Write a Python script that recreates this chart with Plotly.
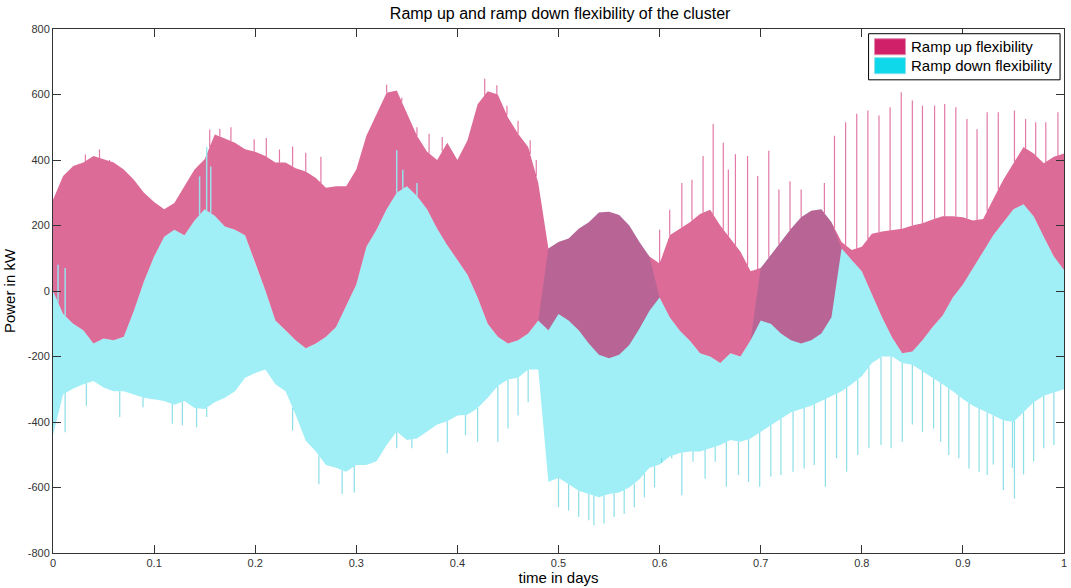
import plotly.graph_objects as go
import numpy as np

# time axis (days), envelopes sampled every 0.01 day
t = [round(i * 0.01, 2) for i in range(101)]

# Ramp up flexibility band: upper and lower envelopes (kW)
up_hi = [279, 351, 382, 392, 412, 402, 392, 371, 340, 300,
         272, 250, 269, 320, 371, 402, 478, 466, 453, 433,
         425, 412, 392, 392, 375, 365, 345, 315, 320, 320,
         371, 474, 540, 605, 612, 545, 474, 425, 400, 453,
         400, 460, 570, 610, 600, 530, 480, 440, 330, 130,
         150, 160, 190, 210, 240, 242, 232, 200, 150, 105,
         84, 170, 190, 210, 235, 248, 200, 160, 120, 60,
         70, 110, 150, 190, 225, 245, 250, 210, 150, 125,
         135, 175, 182, 185, 190, 200, 207, 218, 228, 228,
         225, 215, 220, 280, 340, 390, 440, 420, 390, 410, 420]
up_lo = [0, -70, -100, -120, -160, -145, -150, -140, -60, 30,
         105, 166, 187, 170, 215, 250, 230, 197, 187, 170,
         84, 2, -90, -120, -150, -175, -160, -140, -110, -45,
         20, 135, 187, 250, 300, 320, 290, 250, 190, 140,
         95, 50, -20, -100, -140, -160, -150, -130, -90, -120,
         -70, -90, -120, -160, -195, -205, -195, -165, -115, -60,
         -20, -80, -121, -152, -190, -200, -220, -190, -200, -150,
         -90, -100, -130, -150, -160, -150, -130, -80, 130, 95,
         60, -10, -80, -142, -190, -185, -150, -110, -75, -20,
         20, 70, 120, 170, 210, 250, 265, 228, 166, 105, 64]

# Ramp down flexibility band: upper and lower envelopes (kW)
dn_hi = [0, -70, -100, -120, -160, -145, -150, -140, -60, 30,
         105, 166, 187, 170, 215, 250, 230, 197, 187, 170,
         84, 2, -90, -120, -150, -175, -160, -140, -110, -45,
         20, 135, 187, 250, 300, 320, 290, 250, 190, 140,
         95, 50, -20, -100, -140, -160, -150, -130, -90, 130,
         150, 160, 190, 210, 240, 242, 232, 200, 150, 105,
         -20, -80, -121, -152, -190, -200, -220, -190, -200, -150,
         70, 110, 150, 190, 225, 245, 250, 210, 130, 95,
         60, -10, -80, -142, -190, -185, -150, -110, -75, -20,
         20, 70, 120, 170, 210, 250, 265, 228, 166, 105, 64]
dn_lo = [-440, -316, -298, -285, -275, -295, -306, -306, -316, -326,
         -330, -336, -347, -336, -357, -360, -340, -326, -306, -265,
         -250, -240, -285, -306, -378, -457, -490, -531, -540, -552,
         -531, -531, -520, -470, -429, -455, -450, -429, -408, -398,
         -380, -378, -357, -326, -290, -270, -265, -240, -240, -583,
         -570, -590, -610, -620, -630, -620, -615, -600, -575, -540,
         -530, -505, -495, -490, -490, -480, -470, -455, -460, -450,
         -430, -410, -390, -370, -360, -350, -335, -320, -306, -285,
         -260, -220, -200, -200, -220, -225, -244, -265, -285, -306,
         -330, -350, -365, -380, -395, -400, -370, -340, -320, -310, -300]

# isolated high spikes of the ramp up signal
up_spike_t = [0.032, 0.046, 0.056, 0.155, 0.165, 0.176, 0.199, 0.211, 0.224,
              0.237, 0.25, 0.265, 0.33, 0.345, 0.36, 0.372, 0.385,
              0.427, 0.439, 0.449, 0.46, 0.472, 0.478,
              0.6, 0.61, 0.622, 0.632, 0.643, 0.653, 0.663, 0.668,
              0.675, 0.687, 0.697, 0.708, 0.718, 0.729, 0.74, 0.763, 0.773,
              0.784, 0.795, 0.806, 0.817, 0.828, 0.839, 0.85, 0.86, 0.872,
              0.882, 0.893, 0.904, 0.914, 0.924, 0.935, 0.951, 0.962, 0.972,
              0.982, 0.994]
up_spike_v = [417, 432, 400, 493, 495, 500, 463, 467, 432,
              441, 422, 410, 630, 590, 500, 480, 470,
              648, 628, 566, 520, 460, 400,
              187, 248, 330, 340, 412, 510, 453, 371,
              418, 412, 351, 428, 310, 335, 310, 330, 474,
              515, 541, 551, 536, 561, 607, 582, 566, 566,
              571, 561, 525, 494, 546, 546, 551, 525, 515,
              515, 546]

# isolated low spikes of the ramp down signal
dn_spike_t = [0.012, 0.033, 0.066, 0.089, 0.118, 0.128, 0.142, 0.152,
              0.237, 0.263, 0.286, 0.298, 0.34, 0.355, 0.39, 0.408, 0.42,
              0.44, 0.45, 0.46, 0.47,
              0.5, 0.51, 0.52, 0.53, 0.535, 0.545, 0.555, 0.565, 0.575, 0.585, 0.595,
              0.602, 0.612, 0.622, 0.633, 0.645, 0.655, 0.666, 0.678, 0.688,
              0.699, 0.71, 0.72, 0.732, 0.743, 0.753, 0.764, 0.775, 0.785,
              0.796, 0.807, 0.819, 0.829, 0.84, 0.85, 0.86, 0.871, 0.878,
              0.886, 0.896, 0.906, 0.916, 0.924, 0.93, 0.94, 0.949, 0.951,
              0.96, 0.97, 0.98, 0.99]
dn_spike_v = [-431, -350, -385, -355, -405, -410, -416, -385,
              -426, -590, -620, -615, -480, -480, -496, -440, -460,
              -460, -420, -380, -340,
              -660, -670, -690, -700, -715, -710, -690, -680, -660, -630, -600,
              -511, -511, -624, -521, -573, -521, -598, -562, -583,
              -598, -567, -562, -552, -542, -531, -598, -511, -552,
              -501, -480, -470, -480, -460, -408, -430, -420, -460,
              -501, -511, -542, -552, -562, -530, -608, -540, -634,
              -560, -520, -480, -470]

# upward spikes of the ramp down signal reaching into the ramp up band
dn_up_spike_t = [0.005, 0.012, 0.145, 0.152, 0.156, 0.34, 0.346, 0.36]
dn_up_spike_v = [80, 70, 350, 440, 380, 430, 370, 330]

x_ticks = [0, 0.1, 0.2, 0.3, 0.4, 0.5, 0.6, 0.7, 0.8, 0.9, 1]
y_ticks = [-800, -600, -400, -200, 0, 200, 400, 600, 800]
series_names = ["Ramp up flexibility", "Ramp down flexibility"]

PINK = "rgba(198,16,89,0.62)"
CYAN = "rgb(160,238,246)"
PINK_SOLID = "rgb(208,32,106)"
CYAN_SOLID = "rgb(15,216,234)"
FONT = "Liberation Sans, Arial, sans-serif"


def spike_path(ts, vs, base_series):
    base = np.interp(ts, t, base_series)
    xs, ys = [], []
    for ti, b, v in zip(ts, base, vs):
        xs += [ti, ti, None]
        ys += [float(b), v, None]
    return xs, ys


fig = go.Figure()

# ramp down band (drawn first)
fig.add_trace(go.Scatter(x=t + t[::-1], y=dn_hi + dn_lo[::-1], mode="lines",
                         fill="toself", fillcolor=CYAN, line=dict(width=0),
                         hoverinfo="skip", showlegend=False))
sx, sy = spike_path(dn_spike_t, dn_spike_v, dn_lo)
fig.add_trace(go.Scatter(x=sx, y=sy, mode="lines",
                         line=dict(color="rgba(110,215,228,0.8)", width=1.2),
                         hoverinfo="skip", showlegend=False))

# ramp up band
fig.add_trace(go.Scatter(x=t + t[::-1], y=up_hi + up_lo[::-1], mode="lines",
                         fill="toself", fillcolor=PINK, line=dict(width=0),
                         hoverinfo="skip", showlegend=False))
sx, sy = spike_path(up_spike_t, up_spike_v, up_hi)
fig.add_trace(go.Scatter(x=sx, y=sy, mode="lines",
                         line=dict(color="rgba(208,32,106,0.6)", width=1.2),
                         hoverinfo="skip", showlegend=False))

# ramp down upward spikes on top
sx, sy = spike_path(dn_up_spike_t, dn_up_spike_v, dn_hi)
fig.add_trace(go.Scatter(x=sx, y=sy, mode="lines",
                         line=dict(color="rgba(150,232,242,0.95)", width=1.5),
                         hoverinfo="skip", showlegend=False))

# manual legend (MATLAB style box)
shapes = [
    dict(type="rect", xref="paper", yref="paper", x0=0.8067, x1=0.9961,
         y0=0.903, y1=0.991, line=dict(color="black", width=1), fillcolor="white"),
    dict(type="rect", xref="paper", yref="paper", x0=0.8126, x1=0.8432,
         y0=0.9509, y1=0.9815, line=dict(color="rgb(225,140,175)", width=1),
         fillcolor=PINK_SOLID),
    dict(type="rect", xref="paper", yref="paper", x0=0.8126, x1=0.8432,
         y0=0.9146, y1=0.9452, line=dict(color="rgb(140,225,235)", width=1),
         fillcolor=CYAN_SOLID),
]
annotations = [
    dict(text=series_names[0], xref="paper", yref="paper", x=0.8465, y=0.966,
         xanchor="left", yanchor="middle", showarrow=False,
         font=dict(family=FONT, size=15, color="black")),
    dict(text=series_names[1], xref="paper", yref="paper", x=0.8465, y=0.9295,
         xanchor="left", yanchor="middle", showarrow=False,
         font=dict(family=FONT, size=15, color="black")),
]

axis_common = dict(showline=True, linecolor="#333", linewidth=1, mirror="ticks",
                   ticks="inside", ticklen=8, tickcolor="#333", showgrid=False,
                   zeroline=False, tickfont=dict(family=FONT, size=11, color="#333"))

fig.update_layout(
    width=1071, height=588,
    margin=dict(l=53, r=4, t=29, b=35),
    paper_bgcolor="white", plot_bgcolor="white",
    title=dict(text="Ramp up and ramp down flexibility of the cluster",
               x=0.523, xanchor="center", y=0.977, yanchor="middle",
               font=dict(family=FONT, size=16, color="black")),
    xaxis=dict(range=[0, 1], tickvals=x_ticks, ticktext=[str(v) for v in x_ticks],
               title=dict(text="time in days", standoff=4,
                          font=dict(family=FONT, size=15, color="black")),
               **axis_common),
    yaxis=dict(range=[-800, 800], tickvals=y_ticks, ticktext=[str(v) for v in y_ticks],
               title=dict(text="Power in kW", standoff=8,
                          font=dict(family=FONT, size=15, color="black")),
               **axis_common),
    shapes=shapes,
    annotations=annotations,
    showlegend=False,
)

fig.write_html("out.html")
